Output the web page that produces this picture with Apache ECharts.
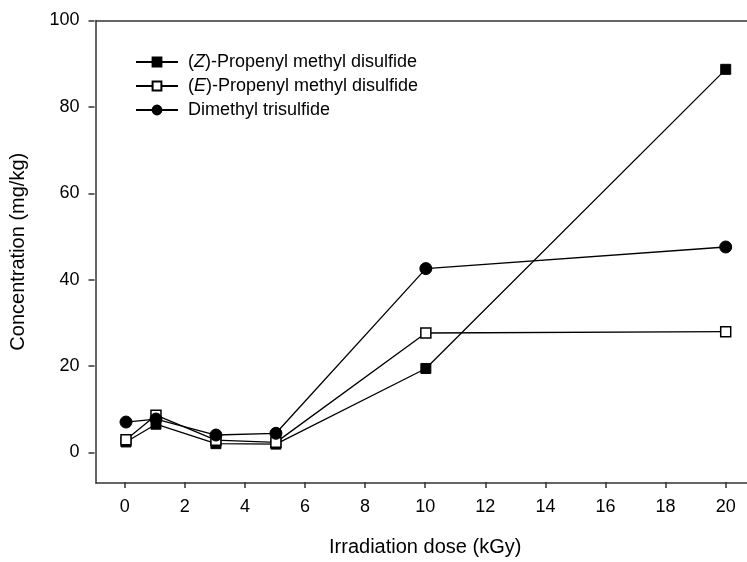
<!DOCTYPE html>
<html>
<head>
<meta charset="utf-8">
<script src="https://cdn.jsdelivr.net/npm/echarts@6/dist/echarts.min.js"></script>
<style>html,body{margin:0;padding:0;background:#fff}#c{width:747px;height:562px}</style>
</head>
<body>
<div id="c"></div>
<script>
const doses = [0, 1, 3, 5, 10, 20];
const zPropenyl = [2.5, 6.6, 2.1, 2.0, 19.5, 88.7];
const ePropenyl = [3.0, 8.7, 2.9, 2.4, 27.7, 28.0];
const dimethylTrisulfide = [7.1, 7.8, 4.1, 4.5, 42.6, 47.6];
const xTicks = [0, 2, 4, 6, 8, 10, 12, 14, 16, 18, 20];
const yTicks = [0, 20, 40, 60, 80, 100];
const seriesNames = ['(Z)-Propenyl methyl disulfide', '(E)-Propenyl methyl disulfide', 'Dimethyl trisulfide'];

const pairs = (ys) => doses.map((d, i) => [d, ys[i]]);
const font = 'Liberation Sans, Arial, sans-serif';
const axisColor = '#333';
const X_MIN = -1, X_MAX = 20.71, Y_MIN = -7, Y_MAX = 100;
const xStep = xTicks[1] - xTicks[0];
const yStep = yTicks[1] - yTicks[0];

const chart = echarts.init(document.getElementById('c'), null, {renderer: 'canvas'});
const lineStyle = {color: '#000', width: 1.3};
const hidden = (t) => ({type: 'value', show: false, gridIndex: t.g, min: t.min, max: t.max});
const tickStyle = {show: true, length: 6, inside: false, lineStyle: {color: axisColor, width: 1.5}};

chart.setOption({
  animation: false,
  backgroundColor: '#fff',
  textStyle: {fontFamily: font},
  grid: [
    {left: 94.5, right: 0, top: 20.5, bottom: 79},        // frame + data
    {left: 124.7, right: 21.3, top: 20.5, bottom: 79},     // x ticks 0..20
    {left: 94.5, right: 0, top: 20.5, bottom: 109.5}       // y ticks 0..100
  ],
  xAxis: [{
    type: 'value', gridIndex: 0, min: X_MIN, max: X_MAX, position: 'bottom',
    axisLine: {show: true, onZero: false, lineStyle: {color: axisColor, width: 1.5}},
    axisTick: {show: false}, axisLabel: {show: false}, splitLine: {show: false}
  }, {
    type: 'value', gridIndex: 0, min: X_MIN, max: X_MAX, position: 'top',
    axisLine: {show: true, onZero: false, lineStyle: {color: axisColor, width: 1.5}},
    axisTick: {show: false}, axisLabel: {show: false}, splitLine: {show: false}
  }, {
    type: 'value', gridIndex: 1, min: xTicks[0], max: xTicks[xTicks.length - 1], interval: xStep, position: 'bottom',
    name: 'Irradiation dose (kGy)', nameLocation: 'middle', nameGap: 55,
    nameTextStyle: {fontSize: 20, color: '#000', fontFamily: font},
    axisLine: {show: false, onZero: false},
    axisTick: tickStyle,
    axisLabel: {fontSize: 18, color: '#000', margin: 16, fontFamily: font},
    splitLine: {show: false}
  },
  hidden({g: 2, min: X_MIN, max: X_MAX})],
  yAxis: [{
    type: 'value', gridIndex: 0, min: Y_MIN, max: Y_MAX,
    name: 'Concentration (mg/kg)', nameLocation: 'middle', nameGap: 68,
    nameTextStyle: {fontSize: 20, color: '#000', fontFamily: font},
    axisLine: {show: true, onZero: false, lineStyle: {color: axisColor, width: 1.5}},
    axisTick: {show: false}, axisLabel: {show: false}, splitLine: {show: false}
  },
  hidden({g: 1, min: Y_MIN, max: Y_MAX}),
  {
    type: 'value', gridIndex: 2, min: yTicks[0], max: yTicks[yTicks.length - 1], interval: yStep,
    axisLine: {show: false, onZero: false},
    axisTick: tickStyle,
    axisLabel: {fontSize: 18, color: '#000', margin: 15, fontFamily: font},
    splitLine: {show: false}
  }],
  legend: {
    orient: 'vertical', left: 130, top: 48,
    itemWidth: 42, itemHeight: 11, itemGap: 6,
    formatter: function (name) {
      if (name.indexOf('(Z)') === 0) return '({it|Z})' + name.slice(3);
      if (name.indexOf('(E)') === 0) return '({it|E})' + name.slice(3);
      return name;
    },
    textStyle: {fontSize: 18, color: '#000', fontFamily: font, padding: [0, 0, 0, 5],
      rich: {it: {fontStyle: 'italic', fontSize: 18, color: '#000', fontFamily: font}}},
    data: seriesNames
  },
  series: [{
    name: seriesNames[0], type: 'line', xAxisIndex: 0, yAxisIndex: 0, data: pairs(zPropenyl),
    symbol: 'rect', symbolSize: 10,
    itemStyle: {color: '#000', borderColor: '#000', borderWidth: 1},
    lineStyle: lineStyle, z: 3
  }, {
    name: seriesNames[1], type: 'line', xAxisIndex: 0, yAxisIndex: 0, data: pairs(ePropenyl),
    symbol: 'rect', symbolSize: 10,
    itemStyle: {color: '#fff', borderColor: '#000', borderWidth: 1.5},
    lineStyle: lineStyle, z: 4
  }, {
    name: seriesNames[2], type: 'line', xAxisIndex: 0, yAxisIndex: 0, data: pairs(dimethylTrisulfide),
    symbol: 'circle', symbolSize: 12,
    itemStyle: {color: '#000', borderColor: '#000', borderWidth: 1},
    lineStyle: lineStyle, z: 5
  }]
});
</script>
</body>
</html>
